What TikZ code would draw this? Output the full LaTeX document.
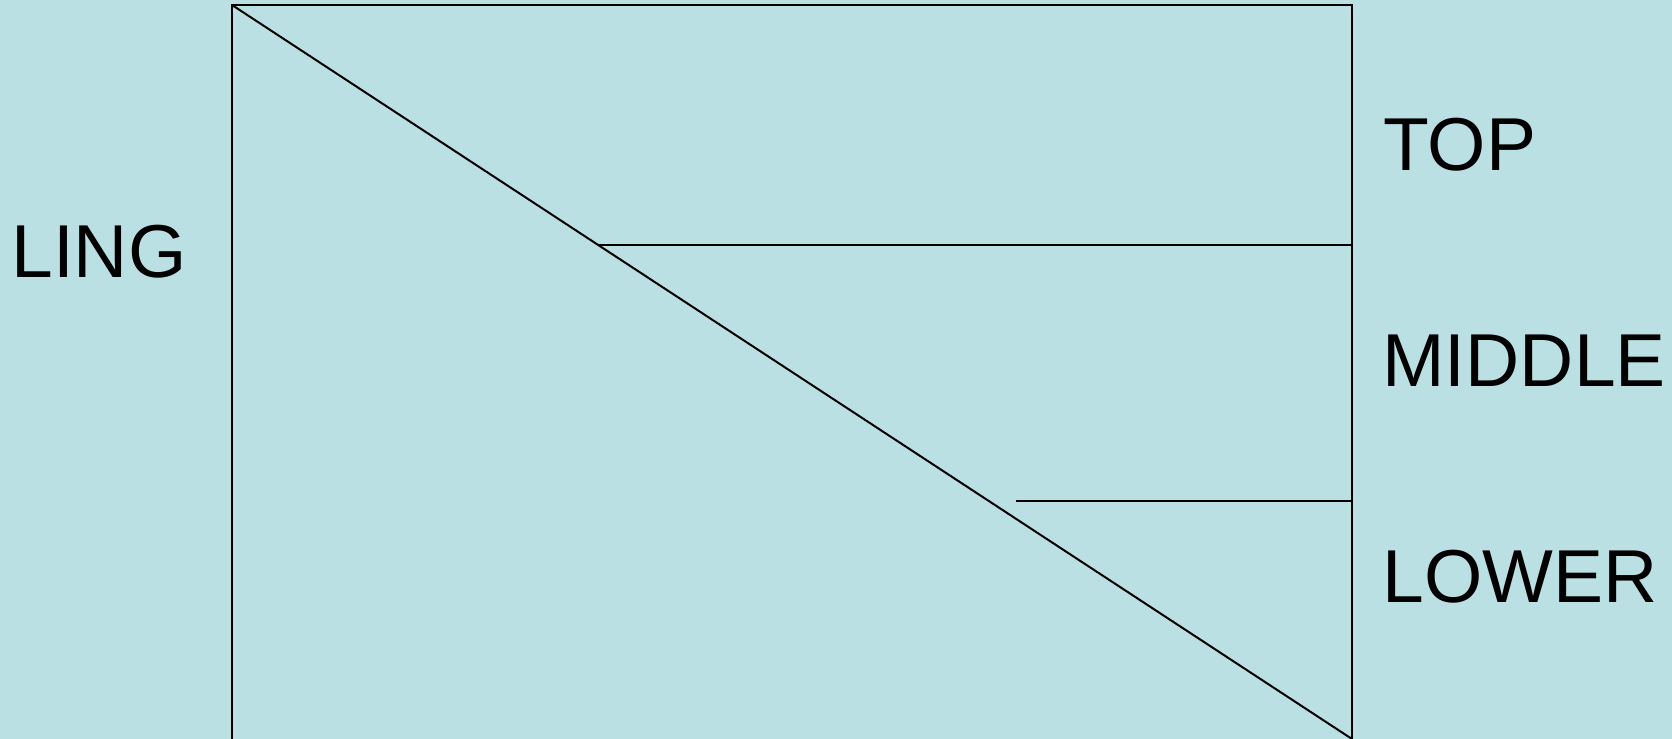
\documentclass[tikz,border=0pt]{standalone}
\usepackage{fontspec}
\setmainfont{Liberation Sans}
\definecolor{bgblue}{RGB}{187,224,227}
\begin{document}
\begin{tikzpicture}[x=0.5pt,y=-0.5pt,
  lbl/.style={anchor=base west,inner sep=0pt,font=\fontsize{37.5pt}{40pt}\selectfont},
  rule/.style={line width=1pt,black}]
\useasboundingbox (0,0) rectangle (1672,739);
\fill[bgblue] (0,0) rectangle (1672,739);
\clip (0,0) rectangle (1672,739);
\coordinate (tl) at (232,5);
\coordinate (tr) at (1352,5);
\coordinate (bl) at (232,760);
\coordinate (br) at (1352,760);
\coordinate (dend) at (1352,739);
\coordinate (h1s) at (599,245);
\coordinate (h1e) at (1352,245);
\coordinate (h2s) at (1016,501);
\coordinate (h2e) at (1352,501);
\draw[rule] (bl) -- (tl) -- (tr) -- (br);
\draw[rule] (tl) -- (dend);
\draw[rule] (h1s) -- (h1e);
\draw[rule] (h2s) -- (h2e);
\node[lbl] (ling) at (11,277) {LING};
\node[lbl] (top) at (1383,170) {TOP};
\node[lbl] (middle) at (1382,386) {MIDDLE};
\node[lbl] (lower) at (1382,602) {LOWER};
\end{tikzpicture}
\end{document}
